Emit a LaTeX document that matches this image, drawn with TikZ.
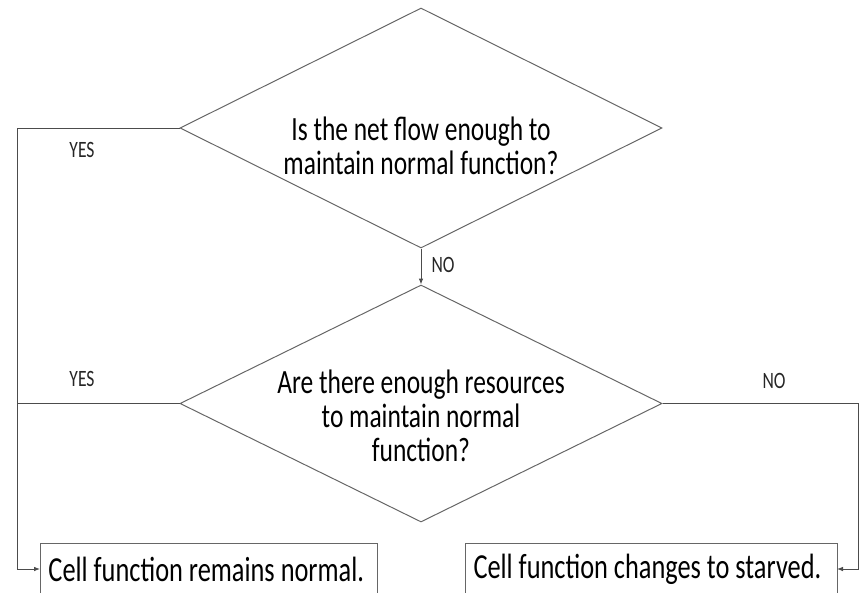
\documentclass[tikz,border=0pt]{standalone}
\usepackage{fontspec}
\setmainfont{Carlito}[FakeStretch=0.75]
\usetikzlibrary{shapes.geometric}
\usetikzlibrary{arrows.meta}

\begin{document}
\begin{tikzpicture}[x=0.3mm,y=-0.3mm,
    question/.style={diamond,draw=black!60,line width=0.85pt,aspect=2,inner sep=0pt,
                     minimum width=144.6mm},
    asktext/.style={align=center,inner sep=0pt,font=\fontsize{29}{29}\selectfont},
    outcome/.style={rectangle,draw=black!60,line width=0.85pt,anchor=north west,
                    minimum height=15.6mm,inner xsep=2.4mm,align=flush left,
                    font=\fontsize{30}{30}\selectfont},
    answer/.style={font=\fontsize{20}{21}\selectfont,text=black!85},
    flow/.style={draw=black!70,line width=0.85pt,-{Latex[length=1.8mm,width=1.4mm]}},
    branch/.style={draw=black!70,line width=0.85pt}]
\useasboundingbox (0,0) rectangle (861,592);

\node[question,minimum height=72mm] (q1) at (421,128) {};
\node[asktext] (q1text) at (421,146)
    {Is the net flow enough to\\maintain normal function?};
\node[question,minimum height=71.1mm] (q2) at (421,403.5) {};
\node[asktext] (q2text) at (421,416)
    {Are there enough resources\\to maintain normal\\function?};

\node[outcome,minimum width=101.1mm,text width=96.3mm] (normal) at (40,543)
    {Cell function remains normal.};
\node[outcome,minimum width=111.6mm,text width=106.8mm] (starved) at (465,543)
    {Cell function changes to starved.};

\coordinate (normalin) at (40,569);
\coordinate (starvedin) at (837,569);

% yes branches go left, no goes down / right
\draw[flow] (q1.west) -- ++(-162,0) |- (normalin);
\draw[branch] (q2.west) -- ++(-162,0);
\draw[flow] (q1.south) -- (q2.north);
\draw[flow] (q2.east) -- ++(196,0) |- (starvedin);

\node[answer] (yes1) at (82,150) {YES};
\node[answer] (yes2) at (82,379) {YES};
\node[answer] (no1) at (443,265) {NO};
\node[answer] (no2) at (774,381) {NO};
\end{tikzpicture}
\end{document}
